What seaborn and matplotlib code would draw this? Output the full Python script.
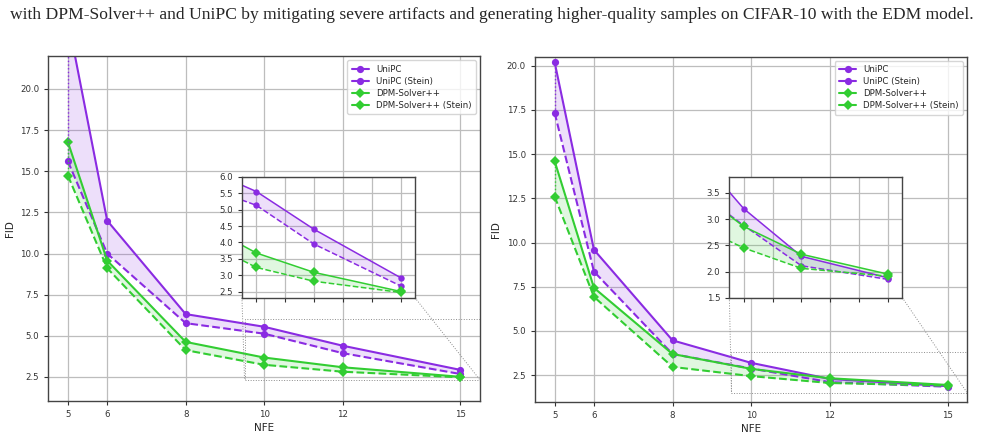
import numpy as np
import pandas as pd
import matplotlib
matplotlib.use("Agg")
import matplotlib.pyplot as plt
import seaborn as sns
from matplotlib.lines import Line2D
from mpl_toolkits.axes_grid1.inset_locator import mark_inset

# ---- data ----
nfe = [5, 6, 8, 10, 12, 15]
xticks = [5, 6, 8, 10, 12, 15]

# left panel
left_unipc = [24.2, 12.0, 6.32, 5.55, 4.40, 2.93]
left_unipc_stein = [15.6, 10.0, 5.77, 5.13, 3.95, 2.68]
left_dpm = [16.77, 9.57, 4.63, 3.68, 3.09, 2.51]
left_dpm_stein = [14.73, 9.11, 4.13, 3.24, 2.82, 2.48]

# right panel
right_unipc = [20.19, 9.59, 4.47, 3.20, 2.29, 1.88]
right_unipc_stein = [17.33, 8.36, 3.70, 2.88, 2.11, 1.85]
right_dpm = [14.60, 7.44, 3.70, 2.86, 2.33, 1.95]
right_dpm_stein = [12.60, 6.93, 2.97, 2.45, 2.06, 1.91]

labels = ["UniPC", "UniPC (Stein)", "DPM-Solver++", "DPM-Solver++ (Stein)"]
caption = ("with DPM-Solver++ and UniPC by mitigating severe artifacts and generating "
           "higher-quality samples on CIFAR-10 with the EDM model.")

PURPLE = "#8a2be2"
GREEN = "#32cd32"

sns.set_style("ticks")
plt.rcParams["font.family"] = ["DejaVu Sans"]

fig = plt.figure(figsize=(9.84, 4.48), dpi=100)

fig.text(0.5, 0.966, caption, ha="center", va="center",
         family=["Liberation Serif"], fontsize=12.6)


def draw(ax, u, us, d, ds, ms=5.2, lw=1.5):
    series = [(u, PURPLE, "o", "-"), (us, PURPLE, "o", "--"),
              (d, GREEN, "D", "-"), (ds, GREEN, "D", "--")]
    for (vals, c, m, ls), lab in zip(series, labels):
        df = pd.DataFrame({"NFE": nfe, "FID": vals})
        sns.lineplot(data=df, x="NFE", y="FID", ax=ax, color=c, marker=m,
                     linestyle=ls, markersize=ms, markeredgewidth=0,
                     linewidth=lw, legend=False)
    ax.fill_between(nfe, u, us, color=PURPLE, alpha=0.15, linewidth=0)
    ax.fill_between(nfe, d, ds, color=GREEN, alpha=0.15, linewidth=0)
    ax.vlines(nfe[0], min(u[0], us[0]), max(u[0], us[0]), colors=PURPLE,
              linestyles=":", linewidth=1.0)
    ax.vlines(nfe[0], min(d[0], ds[0]), max(d[0], ds[0]), colors=GREEN,
              linestyles=":", linewidth=1.0)
    ax.grid(True, color="#bdbdbd", linewidth=0.9)
    ax.set_axisbelow(True)
    for s in ax.spines.values():
        s.set_color("#444444")
        s.set_linewidth(1.0)


panels = [
    dict(pos=[0.0491, 0.1049, 0.4387, 0.770], ylim=(1.04, 22.0),
         yticks=[2.5, 5.0, 7.5, 10.0, 12.5, 15.0, 17.5, 20.0],
         data=(left_unipc, left_unipc_stein, left_dpm, left_dpm_stein),
         ins_pos=[0.2459, 0.3355, 0.1758, 0.270], ins_ylim=(2.32, 6.0),
         ins_yticks=[2.5, 3.0, 3.5, 4.0, 4.5, 5.0, 5.5, 6.0]),
    dict(pos=[0.5437, 0.102, 0.4393, 0.7714], ylim=(0.97, 20.5),
         yticks=[2.5, 5.0, 7.5, 10.0, 12.5, 15.0, 17.5, 20.0],
         data=(right_unipc, right_unipc_stein, right_dpm, right_dpm_stein),
         ins_pos=[0.7412, 0.3355, 0.1758, 0.2688], ins_ylim=(1.5, 3.8),
         ins_yticks=[1.5, 2.0, 2.5, 3.0, 3.5]),
]

for p in panels:
    ax = fig.add_axes(p["pos"])
    draw(ax, *p["data"])
    ax.set_xlim(4.5, 15.5)
    ax.set_ylim(*p["ylim"])
    ax.set_xticks(xticks)
    ax.set_yticks(p["yticks"])
    ax.set_yticklabels([f"{v:.1f}" for v in p["yticks"]])
    ax.tick_params(labelsize=6.2, colors="#333333", length=3, width=0.8)
    ax.set_xlabel("NFE", fontsize=7.5, labelpad=3)
    ax.set_ylabel("FID", fontsize=7.5, labelpad=4)

    handles = [Line2D([], [], color=PURPLE, marker="o", markersize=5.2, lw=1.5, markeredgewidth=0),
               Line2D([], [], color=PURPLE, marker="o", markersize=5.2, lw=1.5, markeredgewidth=0),
               Line2D([], [], color=GREEN, marker="D", markersize=5.2, lw=1.5, markeredgewidth=0),
               Line2D([], [], color=GREEN, marker="D", markersize=5.2, lw=1.5, markeredgewidth=0)]
    ax.legend(handles, labels, loc="upper right", fontsize=6.2, frameon=True,
              borderpad=0.5, labelspacing=0.35, handlelength=2.0,
              framealpha=0.8, edgecolor="#cccccc", fancybox=True)

    axins = fig.add_axes(p["ins_pos"])
    draw(axins, *p["data"], ms=4.6, lw=1.1)
    axins.set_xlim(9.5, 15.5)
    axins.set_ylim(*p["ins_ylim"])
    axins.set_xticks([10, 11, 12, 13, 14, 15])
    axins.set_xticklabels([])
    axins.set_yticks(p["ins_yticks"])
    axins.set_yticklabels([f"{v:.1f}" for v in p["ins_yticks"]])
    axins.tick_params(labelsize=6.2, colors="#333333", length=3, width=0.8)
    axins.set_xlabel("")
    axins.set_ylabel("")
    mark_inset(ax, axins, loc1=3, loc2=4, fc="none", ec="0.55", ls=":", lw=0.7)

fig.savefig("out.png", dpi=100)
